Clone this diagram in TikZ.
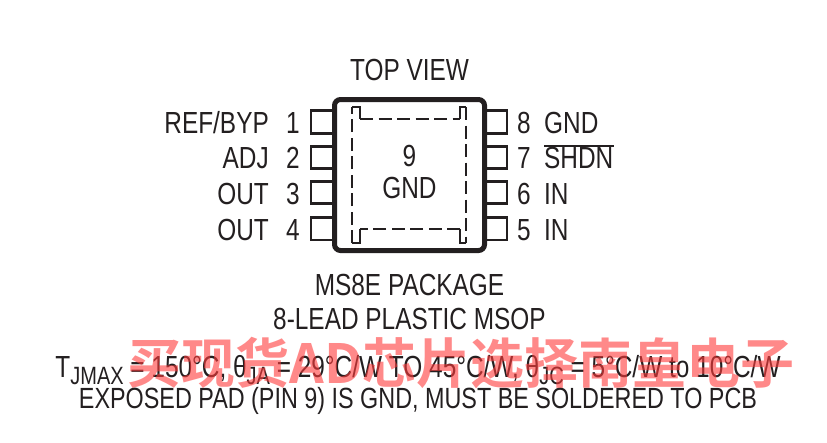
\documentclass[tikz,border=0pt]{standalone}
\usepackage{fontspec}
\setmainfont[FakeStretch=0.8]{Liberation Sans}
\newfontfamily\cjk{Noto Sans CJK SC Bold}
\usepackage{xcolor}
\definecolor{inkc}{HTML}{231F20}
\definecolor{markc}{HTML}{FF3B3B}
\newcommand{\subtxt}[1]{\raisebox{-7.5pt}{\fontsize{25}{25}\selectfont #1}}

\begin{document}
\begin{tikzpicture}[x=1pt,y=-1pt,
        % define styles
        pin/.style={
             draw=inkc,
             line width=2.1pt,
             fill=white
        },
        txt/.style={
            text=inkc,
            inner sep=0pt,
            font=\fontsize{30.5}{30.5}\selectfont
        },
        leftlab/.style={txt,anchor=base east},
        rightlab/.style={txt,anchor=base west},
        midlab/.style={txt,anchor=base}
    ]
        \useasboundingbox (0,0) rectangle (827,442);

        % Left pins
        \draw[pin] (311,110.5) rectangle (333,133.5);
        \draw[pin] (311,146.5) rectangle (333,168.5);
        \draw[pin] (311,181.5) rectangle (333,203.5);
        \draw[pin] (311,217.5) rectangle (333,240);

        % Right pins
        \draw[pin] (486,110.5) rectangle (507,133.5);
        \draw[pin] (486,146.5) rectangle (507,168.5);
        \draw[pin] (486,181.5) rectangle (507,203.5);
        \draw[pin] (486,217.5) rectangle (507,240);

        % Package body and exposed pad
        \draw[inkc,line width=5pt,rounded corners=6pt,fill=white] (334.5,99.5) rectangle (484.5,250.5);
        \draw[inkc,line width=1.1pt,dash pattern=on 13pt off 5.5pt]
            (360,119) -- (460,119) (466,107) -- (466,243) (460,229) -- (360,229) (352,243) -- (352,107);
        \draw[inkc,line width=1.1pt] (352,107) -- (360,107) -- (360,119);
        \draw[inkc,line width=1.1pt] (460,119) -- (460,107) -- (466,107);
        \draw[inkc,line width=1.1pt] (466,243) -- (460,243) -- (460,229);
        \draw[inkc,line width=1.1pt] (360,229) -- (360,243) -- (352,243);

        % Labels
        \node[midlab] at (409.5,80) (title) {TOP VIEW};
        \node[midlab] at (409.5,166) (padnum) {9};
        \node[midlab] at (409.5,198) (padname) {GND};

        \node[leftlab] at (269,133) (ref) {REF/BYP};
        \node[leftlab] at (269,168) (adj) {ADJ};
        \node[leftlab] at (269,204) (out1) {OUT};
        \node[leftlab] at (269,240) (out2) {OUT};
        \node[leftlab] at (300,133) (n1) {1};
        \node[leftlab] at (300,168) (n2) {2};
        \node[leftlab] at (300,204) (n3) {3};
        \node[leftlab] at (300,240) (n4) {4};

        \node[rightlab] at (517,133) (n8) {8};
        \node[rightlab] at (517,168) (n7) {7};
        \node[rightlab] at (517,204) (n6) {6};
        \node[rightlab] at (517,240) (n5) {5};
        \node[rightlab] at (544,133) (gnd) {GND};
        \node[rightlab] at (544,168) (shdn) {SHDN};
        \node[rightlab] at (544,204) (in1) {IN};
        \node[rightlab] at (544,240) (in2) {IN};
        \draw[inkc,line width=1.7pt] (shdn.north west |- 0,146) -- (shdn.north east |- 0,146);

        % Package notes
        \node[midlab] at (409.5,295) (pkg) {MS8E PACKAGE};
        \node[midlab] at (409.5,329) (lead) {8-LEAD PLASTIC MSOP};
        \node[midlab] at (418,377) (therm) {T\subtxt{JMAX} = 150°C, θ\subtxt{JA} = 29°C/W TO 45°C/W, θ\subtxt{JC} = 5°C/W to 10°C/W};
        \node[midlab,font=\fontsize{29.2}{29.2}\selectfont] at (418,408) (pad) {EXPOSED PAD (PIN 9) IS GND, MUST BE SOLDERED TO PCB};

        % Overprinted red line
        \node[inner sep=0pt,text=markc,text opacity=0.6,anchor=base,font=\cjk\fontsize{54}{54}\selectfont] at (461,383) (mark) {买现货AD芯片选择南皇电子};
    \end{tikzpicture}
\end{document}
